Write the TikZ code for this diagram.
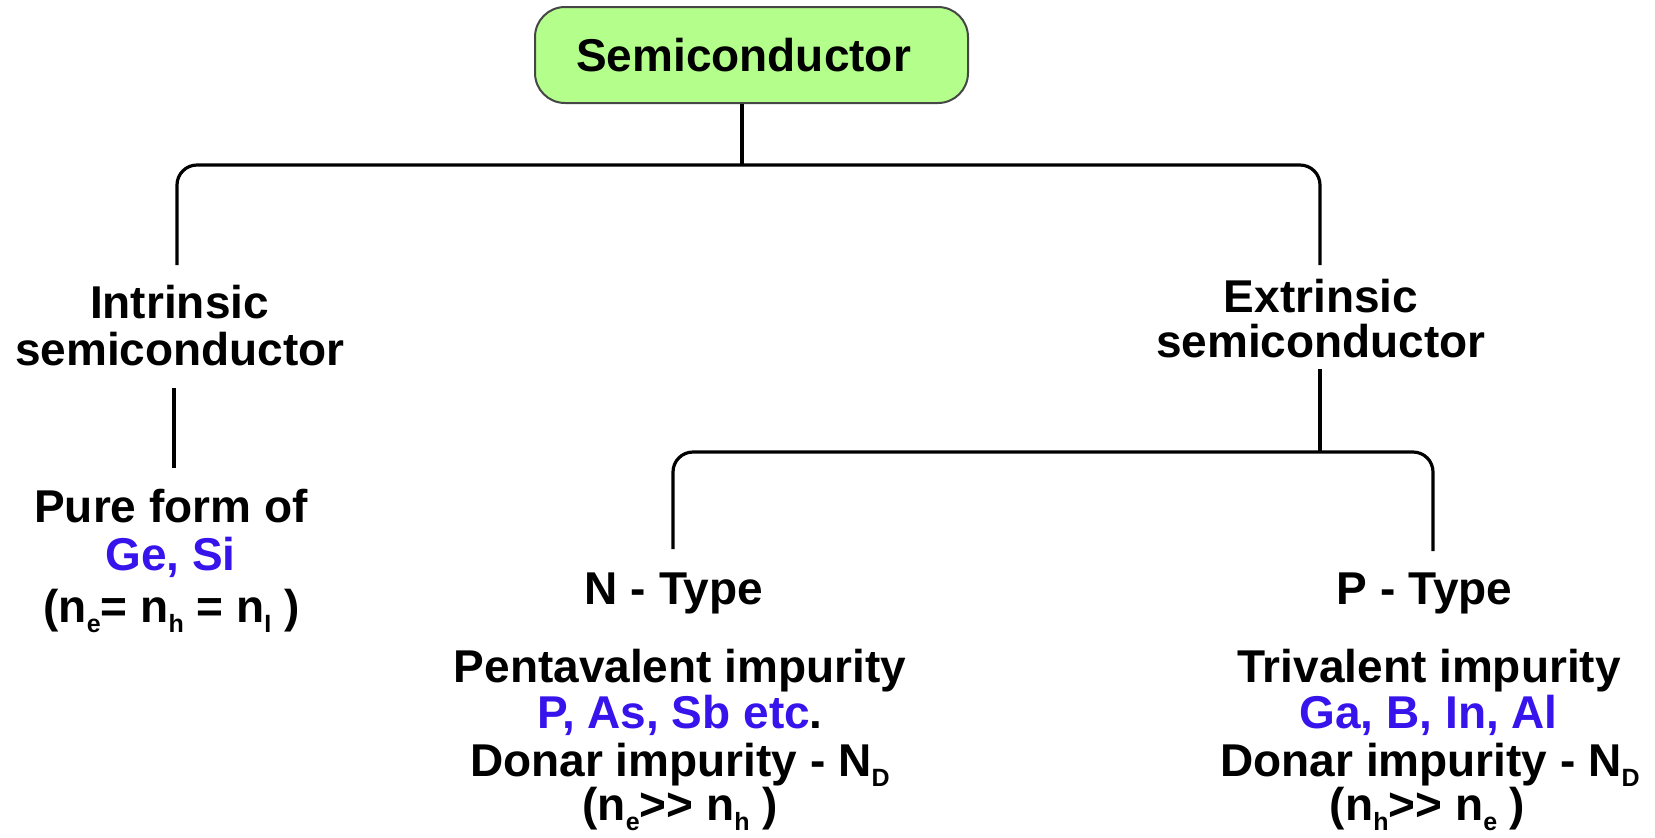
\documentclass[tikz,border=0pt]{standalone}
\usepackage{fontspec}
\setmainfont{Liberation Sans}
\definecolor{elblue}{RGB}{55,20,235}
\definecolor{boxgreen}{RGB}{180,255,140}
\definecolor{boxline}{RGB}{70,70,70}
\newcommand{\sbs}[1]{\raisebox{-5pt}{\fontsize{12.5}{12.5}\selectfont #1}}
\begin{document}
\begin{tikzpicture}[x=0.5pt,y=-0.5pt,
  txt/.style={font=\fontsize{23}{23.5}\selectfont\bfseries, inner sep=0, anchor=base},
  blu/.style={txt, text=elblue},
  conn/.style={line width=1.6pt, black},
  rootbox/.style={draw=boxline, line width=1pt, fill=boxgreen, rounded corners=15pt,
    minimum width=216.5pt, minimum height=48pt, inner sep=0,
    font=\fontsize{23}{23.5}\selectfont\bfseries}]
\useasboundingbox (0,0) rectangle (1655,837);
% root
\node[rootbox] (semibox) at (751.5,55) {Semiconductor\hspace*{8pt}};
% intrinsic branch
\node[txt] (intr1) at (179.5,318) {Intrinsic};
\node[txt] (intr2) at (180,365) {semiconductor};
\node[txt] (pure1) at (171,522) {Pure form of};
\node[blu] (pure2) at (170.5,570) {Ge, Si};
\node[txt] (pure3) at (171.5,622) {(n\sbs{e}= n\sbs{h} = n\sbs{I} )};
% extrinsic branch
\node[txt] (extr1) at (1321,312) {Extrinsic};
\node[txt] (extr2) at (1321,357) {semiconductor};
\node[txt] (ntype) at (674,604) {N - Type};
\node[txt] (ptype) at (1424.5,604) {P - Type};
\node[txt] (n1) at (680,682) {Pentavalent impurity};
\node[txt] (n2) at (680,728) {\textcolor{elblue}{P, As, Sb etc}.};
\node[txt] (n3) at (680,776) {Donar impurity - N\sbs{D}};
\node[txt] (n4) at (680,820) {(n\sbs{e}>{}> n\sbs{h} )};
\node[txt] (p1) at (1429,682) {Trivalent impurity};
\node[blu] (p2) at (1428.6,728) {Ga, B, In, Al};
\node[txt] (p3) at (1430,776) {Donar impurity - N\sbs{D}};
\node[txt] (p4) at (1427.6,820) {(n\sbs{h}>{}> n\sbs{e} )};
% connectors
\coordinate (j1) at (742,165);
\coordinate (lt) at (177,265);
\coordinate (rt) at (1320,265);
\draw[conn] (semibox.south -| j1) -- (j1);
\draw[conn, rounded corners=10pt] (lt) |- (j1) -| (rt);
\coordinate (i1) at (174,388);
\coordinate (i2) at (174,468);
\draw[conn] (i1) -- (i2);
\coordinate (e1) at (1320,369);
\coordinate (e2) at (1320,452);
\draw[conn] (e1) -- (e2);
\coordinate (nt) at (673,549);
\coordinate (pt) at (1433,551);
\draw[conn, rounded corners=10pt] (nt) |- (e2) -| (pt);
\end{tikzpicture}
\end{document}
